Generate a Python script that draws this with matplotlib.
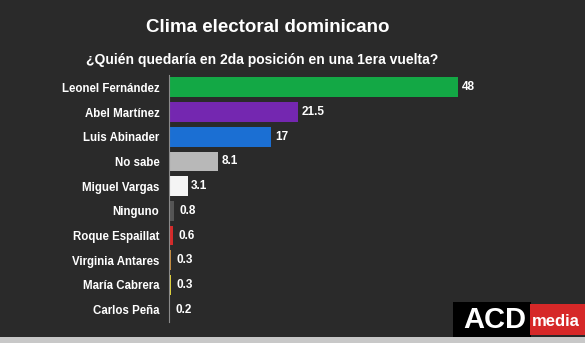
import matplotlib.pyplot as plt
from matplotlib.patches import Rectangle

plt.rcParams['font.family'] = ['Liberation Sans', 'DejaVu Sans']

names = ['Leonel Fernández', 'Abel Martínez', 'Luis Abinader', 'No sabe', 'Miguel Vargas',
         'Ninguno', 'Roque Espaillat', 'Virginia Antares', 'María Cabrera', 'Carlos Peña']
values = [48, 21.5, 17, 8.1, 3.1, 0.8, 0.6, 0.3, 0.3, 0.2]
labels = ['48', '21.5', '17', '8.1', '3.1', '0.8', '0.6', '0.3', '0.3', '0.2']
colors = ['#13a845', '#7427b0', '#1b6fd3', '#b8b8b8', '#f4f4f4',
          '#555555', '#d42a2a', '#c58a3c', '#e0d23a', '#b8874a']

bg = '#2a2a2a'
fig = plt.figure(figsize=(5.85, 3.43), dpi=100, facecolor=bg)
ax = fig.add_axes([169/585, 1 - 322/343, 361/585, 247/343], facecolor=bg)

ypos = list(range(len(names)))
ax.barh(ypos, values, height=0.8, color=colors)
for y, v, t in zip(ypos, values, labels):
    ax.text(v + 0.6 if v > 1 else v + 0.9, y, t, va='center', ha='left',
            color='white', fontsize=8.5, fontweight='bold')

ax.set_xlim(0, 60)
ax.set_ylim(len(names) - 0.5, -0.5)
ax.set_yticks(ypos)
ax.set_yticklabels(names, color='white', fontsize=8.3, fontweight='bold')
ax.tick_params(axis='y', length=0, pad=7)
ax.set_xticks([])
for s in ['top', 'right', 'bottom']:
    ax.spines[s].set_visible(False)
ax.spines['left'].set_color('#8a8a8a')
ax.spines['left'].set_linewidth(0.8)

fig.text(268/585, 1 - 27/343, 'Clima electoral dominicano', ha='center', va='center',
         color='white', fontsize=13.5, fontweight='bold')
fig.text(262/585, 1 - 60/343, '¿Quién quedaría en 2da posición en una 1era vuelta?', ha='center',
         va='center', color='white', fontsize=10, fontweight='bold')

# logo
fig.patches.append(Rectangle((453/585, 1 - 337/343), 78/585, 35/343, transform=fig.transFigure,
                             facecolor='black', edgecolor='none'))
fig.patches.append(Rectangle((530/585, 1 - 335/343), 55/585, 31/343, transform=fig.transFigure,
                             facecolor='#d62828', edgecolor='none'))
fig.text(495/585, 1 - 320/343, 'ACD', ha='center', va='center', color='white',
         fontsize=21, fontweight='bold')
fig.text(532/585, 1 - 321/343, 'media', ha='left', va='center', color='white',
         fontsize=12, fontweight='bold')
fig.patches.append(Rectangle((0, 0), 1, 6/343, transform=fig.transFigure,
                             facecolor='#c8c8c8', edgecolor='none'))

fig.savefig('out.png', dpi=100, facecolor=bg)
